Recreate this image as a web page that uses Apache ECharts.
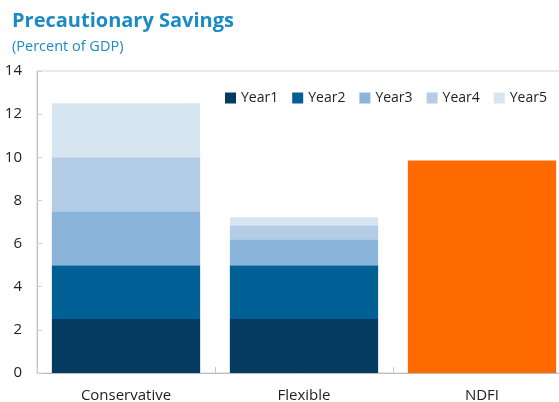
<!DOCTYPE html>
<html>
<head>
<meta charset="utf-8">
<script src="https://cdn.jsdelivr.net/npm/echarts@6/dist/echarts.min.js"></script>
<style>
html,body{margin:0;padding:0;background:#fff;}
#chart{width:559px;height:402px;}
</style>
</head>
<body>
<div id="chart"></div>
<script>
// categories and values
var categories = ['Conservative', 'Flexible', 'NDFI'];
var year1 = [2.5, 2.5, '-'];
var year2 = [2.5, 2.5, '-'];
var year3 = [2.5, 1.2, '-'];
var year4 = [2.5, 0.65, '-'];
var year5 = [2.5, 0.37, '-'];
var ndfi = ['-', '-', 9.85];
var yearNames = ['Year1', 'Year2', 'Year3', 'Year4', 'Year5'];
var yearColors = ['#053b61', '#005f94', '#8ab4da', '#b2cde5', '#d7e5f1'];

var chart = echarts.init(document.getElementById('chart'));
var font = '"Open Sans", "Noto Sans", sans-serif';

var yearData = [year1, year2, year3, year4, year5];
var series = yearData.map(function (d, i) {
    return {
        name: yearNames[i],
        type: 'bar',
        stack: 'total',
        barCategoryGap: '16.7%',
        itemStyle: { color: yearColors[i] },
        data: d
    };
});
series.push({
    name: 'NDFI',
    type: 'bar',
    stack: 'total',
    itemStyle: { color: '#ff6a00' },
    data: ndfi
});

var option = {
    animation: false,
    textStyle: { fontFamily: font },
    title: [{
        text: 'Precautionary Savings',
        left: 7,
        top: 6,
        textStyle: { fontFamily: font, fontSize: 20, fontWeight: 'bold', color: '#1a8bc4' }
    }, {
        text: '(Percent of GDP)',
        left: 7,
        top: 34,
        textStyle: { fontFamily: font, fontSize: 14.5, fontWeight: 'normal', color: '#1a8bc4' }
    }],
    legend: {
        data: yearNames,
        left: 220,
        top: 86,
        itemWidth: 11,
        itemHeight: 11,
        itemGap: 14,
        icon: 'rect',
        textStyle: { fontFamily: font, fontSize: 14, color: '#222' }
    },
    grid: {
        left: 37,
        top: 71,
        width: 534,
        height: 302,
        outerBoundsMode: 'none',
        containLabel: false,
        show: true,
        borderColor: '#d4d4d4',
        borderWidth: 1
    },
    xAxis: {
        type: 'category',
        data: categories,
        axisLine: { lineStyle: { color: '#bdbdbd' } },
        axisTick: { show: true, inside: true, length: 6, lineStyle: { color: '#c8c8c8' } },
        axisLabel: { margin: 15, fontSize: 15, color: '#222', fontFamily: font }
    },
    yAxis: {
        type: 'value',
        min: 0,
        max: 14,
        interval: 2,
        axisLine: { show: true, lineStyle: { color: '#bdbdbd' } },
        axisTick: { show: true, inside: true, length: 5, lineStyle: { color: '#d0d0d0' } },
        splitLine: { show: false },
        axisLabel: { margin: 15, fontSize: 15, color: '#222', fontFamily: font }
    },
    series: series
};
chart.setOption(option);
</script>
</body>
</html>
